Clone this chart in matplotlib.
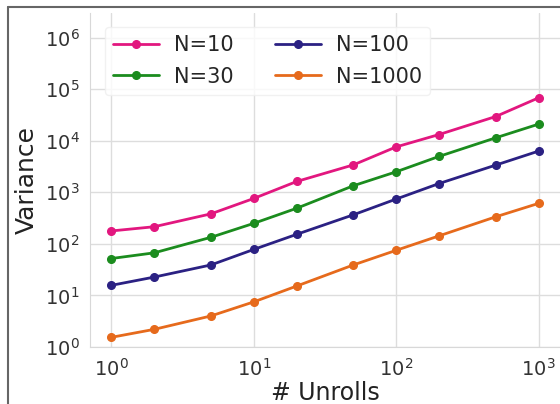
import numpy as np
import matplotlib
matplotlib.use("Agg")
import matplotlib.pyplot as plt
import seaborn as sns
from matplotlib.lines import Line2D

# unroll counts
unrolls = [1, 2, 5, 10, 20, 50, 100, 200, 500, 1000]

# variance per sample count N
var_n10 = [178, 215, 382, 760, 1620, 3400, 7600, 13200, 29500, 68000]
var_n30 = [52, 67, 134, 250, 490, 1340, 2500, 4970, 11400, 21000]
var_n100 = [15.7, 22.7, 39, 78, 153, 366, 740, 1480, 3370, 6300]
var_n1000 = [1.54, 2.2, 4.0, 7.5, 15.2, 39, 75, 143, 335, 610]

labels = ['N=10', 'N=30', 'N=100', 'N=1000']
colors = ['#e2177f', '#1b8c1e', '#2b2183', '#e66a1c']

sns.set_style('whitegrid')
plt.rcParams['font.family'] = ['DejaVu Sans']

fig = plt.figure(figsize=(5.6, 4.04), dpi=100)
ax = fig.add_axes([90 / 560, 57 / 404, 470 / 560, 334 / 404])

for y, lab, c in zip([var_n10, var_n30, var_n100, var_n1000], labels, colors):
    ax.plot(unrolls, y, marker='o', markersize=5.5, linewidth=2, color=c, label=lab)

ax.set_xscale('log')
ax.set_yscale('log')
ax.set_ylim(1, 3e6)
ax.set_xlim(10 ** -0.15, 10 ** 3.15)
ax.set_yticks([1, 10, 100, 1e3, 1e4, 1e5, 1e6])
ax.minorticks_off()
ax.tick_params(labelsize=14, colors='#333333', pad=4)
ax.set_xlabel('# Unrolls', fontsize=17, color='#222222', labelpad=1)
ax.set_ylabel('Variance', fontsize=18, color='#222222', labelpad=4)
ax.grid(True, color='#dddddd', linewidth=1)
for s in ['top', 'right']:
    ax.spines[s].set_visible(False)
for s in ['left', 'bottom']:
    ax.spines[s].set_color('#d8d8d8')

ax.legend(loc='upper left', ncol=2, fontsize=15, frameon=True,
          handlelength=2.2, handletextpad=0.7, columnspacing=2.0, labelspacing=0.55,
          bbox_to_anchor=(0.01, 0.99), framealpha=0.8, edgecolor='#eeeeee')

# frame of the cropped screenshot
fig.add_artist(Line2D([7.5 / 560, 7.5 / 560], [0, 1 - 7 / 404], color='#666666', linewidth=1.5))
fig.add_artist(Line2D([7.5 / 560, 1], [1 - 7 / 404, 1 - 7 / 404], color='#666666', linewidth=1.5))

fig.savefig('out.png', dpi=100)
